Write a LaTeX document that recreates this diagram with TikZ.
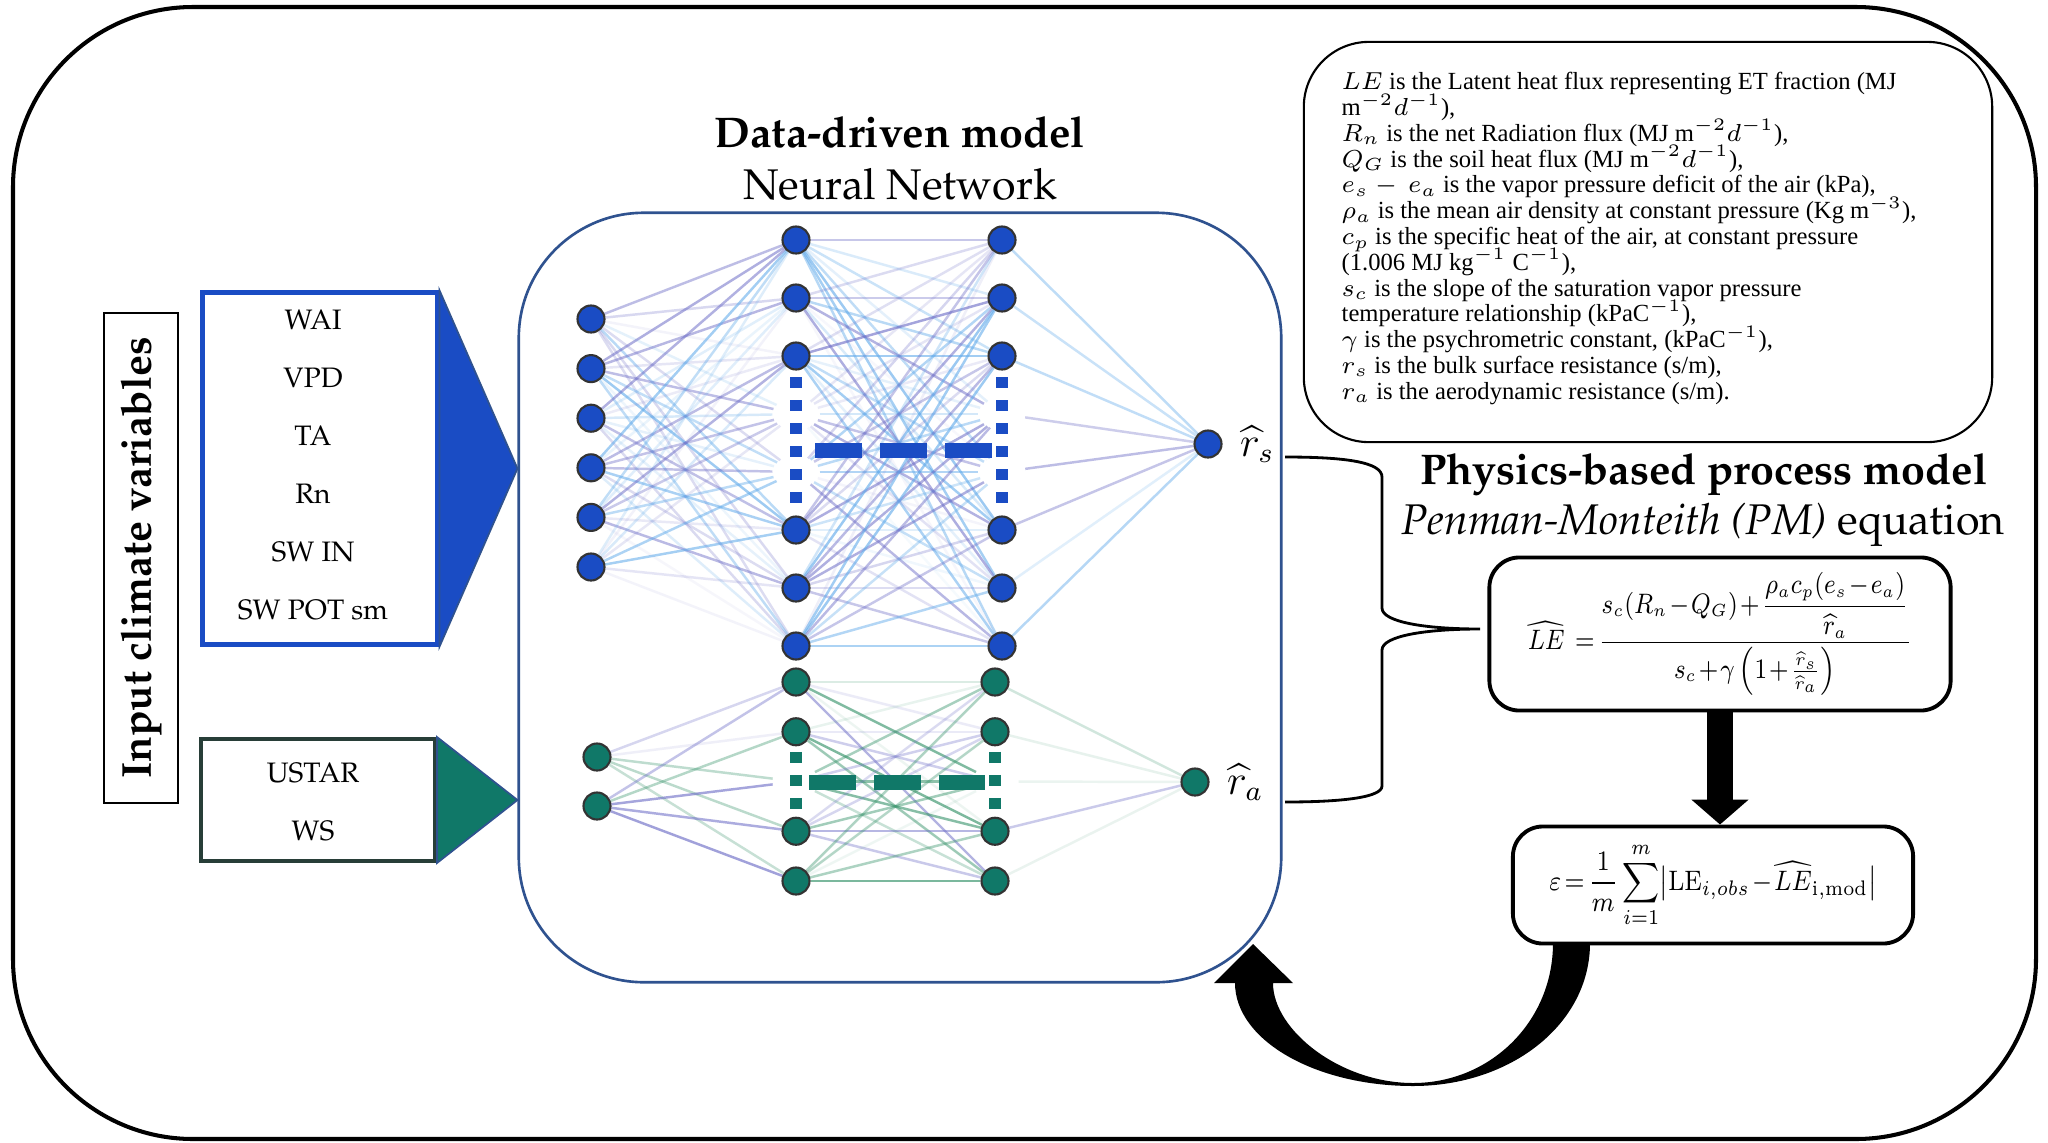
\documentclass[tikz,border=0pt]{standalone}
\usepackage[T1]{fontenc}
\usepackage{fontspec}
\usepackage{amsmath}
\usetikzlibrary{positioning,backgrounds,arrows.meta,shapes.geometric}
\newfontfamily\notefont{Liberation Serif}
\newcommand\palfont{\fontencoding{T1}\fontfamily{ppl}}
\newcommand\notesize{\notefont\fontsize{7.0}{7.33}\selectfont\lineskiplimit=-5pt\relax}
\newcommand\tightmath{\medmuskip=1.5mu\thickmuskip=2.5mu\relax}

\definecolor{nnblue}{RGB}{26,76,196}
\definecolor{nngreen}{RGB}{16,120,104}
\definecolor{nnframe}{RGB}{47,82,143}
\definecolor{eblue}{RGB}{100,172,235}
\definecolor{epurple}{RGB}{112,112,200}
\definecolor{egreen}{RGB}{60,150,110}
\definecolor{gframe}{RGB}{40,62,56}

\tikzset{
  neuron/.style={circle, draw=black!80, line width=0.6pt, minimum size=0.27cm, inner sep=0pt},
  bneuron/.style={neuron, fill=nnblue},
  gneuron/.style={neuron, fill=nngreen},
  hole/.style={ellipse, fill=white, minimum width=0.46cm, minimum height=0.30cm, inner sep=0pt},
  edge/.style={line width=0.7pt},
  varbox/.style={draw, minimum width=2.34cm, align=center, font=\palfont\fontsize{8}{16.5}\selectfont},
  eqbox/.style={draw, rounded corners=0.3cm, line width=1.1pt},
  title/.style={font=\palfont\fontsize{12.2}{14}\selectfont},
  vdots/.style={line width=0.12cm, dash pattern=on 0.11cm off 0.12cm},
  hdash/.style={line width=0.15cm, dash pattern=on 0.47cm off 0.18cm},
}

\begin{document}
\begin{tikzpicture}[x=0.01cm, y=-0.01cm]
  \useasboundingbox (0,0) rectangle (2048,1142);
  \begin{scope}[on background layer]
    \fill[white] (0,0) rectangle (2048,1142);
  \end{scope}
  \draw[line width=1.15pt, rounded corners=1.8cm] (13,7) rectangle (2036,1139);

  % inputs
  \node[draw, line width=0.6pt, rotate=90, minimum width=4.9cm, minimum height=0.74cm,
        font=\palfont\bfseries\fontsize{11.9}{14}\selectfont] (icv) at (141,558) {Input climate variables};
  \node[varbox, draw=nnblue, line width=1.4pt, minimum height=3.51cm] (cbox) at (320,468.5) {};
  \node[align=center, font=\palfont\fontsize{8}{16.5}\selectfont] (cvars) at (313,465)
    {WAI\\VPD\\TA\\Rn\\SW IN\\SW POT sm};
  \node[varbox, draw=gframe, line width=1.1pt, minimum height=1.22cm] (gbox) at (318,800) {};
  \node[align=center, font=\palfont\fontsize{8}{16.5}\selectfont] (gvars) at (313,802) {USTAR\\WS};

  % network frame
  \node[draw=nnframe, line width=0.75pt, rounded corners=1.25cm, minimum width=7.62cm, minimum height=7.69cm] (nn) at (900,597.5) {};
  \filldraw[fill=nnblue, draw=nnframe, line width=0.5pt] (cbox.north east) -- (cbox.east -| nn.west) -- (cbox.south east) -- cycle;
  \filldraw[fill=nngreen, draw=nnframe, line width=0.5pt] (gbox.north east) -- (gbox.east -| nn.west) -- (gbox.south east) -- cycle;
  \node[title] (ddm) at (900,132) {\bfseries Data-driven model};
  \node[title] (nnt) at (900,184) {Neural Network};

  % blue network (r_s)
  \foreach \i [evaluate=\i as \y using 319+49.6*(\i-1)] in {1,...,6}
    \node[bneuron] (bi\i) at (591,\y) {};
  \foreach \j [evaluate=\j as \y using 240+58*(\j-1)] in {1,2,3,6,7,8} {
    \node[bneuron] (b1-\j) at (796,\y) {};
    \node[bneuron] (b2-\j) at (1002,\y) {};
  }
  \foreach \j [evaluate=\j as \y using 240+58*(\j-1)] in {4,5} {
    \node[hole] (b1-\j) at (796,\y) {};
    \node[hole] (b2-\j) at (1002,\y) {};
  }
  \node[bneuron] (rs) at (1208,444) {};
  \node[right=0.05cm of rs, font=\fontsize{12}{14}\selectfont] (rslab) {$\widehat{r}_s$};

  % green network (r_a)
  \foreach \i [evaluate=\i as \y using 757+49*(\i-1)] in {1,2}
    \node[gneuron] (gi\i) at (597,\y) {};
  \foreach \j [evaluate=\j as \y using 682+49.75*(\j-1)] in {1,2,4,5} {
    \node[gneuron] (g1-\j) at (796,\y) {};
    \node[gneuron] (g2-\j) at (995,\y) {};
  }
  \node[hole] (g1-3) at (796,781.5) {};
  \node[hole] (g2-3) at (995,781.5) {};
  \node[gneuron] (ra) at (1195,782) {};
  \node[right=0.05cm of ra, font=\fontsize{12}{14}\selectfont] (ralab) {$\widehat{r}_a$};

  % weights
  \pgfmathsetseed{11}
  \begin{scope}[on background layer]
    \foreach \i in {1,...,6}
      \foreach \j in {1,...,8} {
        \pgfmathsetmacro\op{0.06+0.6*rnd}
        \pgfmathtruncatemacro\pick{rnd<0.45}
        \ifnum\pick=1 \def\ecol{eblue}\else\def\ecol{epurple}\fi
        \draw[edge, draw=\ecol, draw opacity=\op] (bi\i) -- (b1-\j);
      }
    \foreach \i in {1,...,8}
      \foreach \j in {1,...,8} {
        \pgfmathsetmacro\op{0.05+0.6*rnd}
        \pgfmathtruncatemacro\pick{rnd<0.45}
        \ifnum\pick=1 \def\ecol{eblue}\else\def\ecol{epurple}\fi
        \draw[edge, draw=\ecol, draw opacity=\op] (b1-\i) -- (b2-\j);
      }
    \foreach \i in {1,...,8} {
      \pgfmathsetmacro\op{0.06+0.6*rnd}
      \pgfmathtruncatemacro\pick{rnd<0.5}
      \ifnum\pick=1 \def\ecol{eblue}\else\def\ecol{epurple}\fi
      \draw[edge, draw=\ecol, draw opacity=\op] (b2-\i) -- (rs);
    }
    \foreach \i in {1,2}
      \foreach \j in {1,...,5} {
        \pgfmathsetmacro\op{0.1+0.6*rnd}
        \pgfmathtruncatemacro\pick{rnd<0.45}
        \ifnum\pick=1 \def\ecol{egreen}\else\def\ecol{epurple}\fi
        \draw[edge, draw=\ecol, draw opacity=\op] (gi\i) -- (g1-\j);
      }
    \foreach \i in {1,...,5}
      \foreach \j in {1,...,5} {
        \pgfmathsetmacro\op{0.08+0.6*rnd}
        \pgfmathtruncatemacro\pick{rnd<0.5}
        \ifnum\pick=1 \def\ecol{egreen}\else\def\ecol{epurple}\fi
        \draw[edge, draw=\ecol, draw opacity=\op] (g1-\i) -- (g2-\j);
      }
    \foreach \i in {1,...,5} {
      \pgfmathsetmacro\op{0.1+0.5*rnd}
      \pgfmathtruncatemacro\pick{rnd<0.5}
      \ifnum\pick=1 \def\ecol{egreen}\else\def\ecol{epurple}\fi
      \draw[edge, draw=\ecol, draw opacity=\op] (g2-\i) -- (ra);
    }
  \end{scope}

  % hidden neurons left out
  \draw[vdots, nnblue] ([yshift=-0.21cm]b1-3.center) -- ([yshift=0.20cm]b1-6.center);
  \draw[vdots, nnblue] ([yshift=-0.21cm]b2-3.center) -- ([yshift=0.20cm]b2-6.center);
  \draw[hdash, nnblue] (815,450) -- (992,450);
  \draw[vdots, nngreen] ([yshift=-0.20cm]g1-2.center) -- ([yshift=0.19cm]g1-4.center);
  \draw[vdots, nngreen] ([yshift=-0.20cm]g2-2.center) -- ([yshift=0.19cm]g2-4.center);
  \draw[hdash, nngreen] (809,782) -- (985,782);

  % physics part
  \node[draw, line width=0.6pt, rounded corners=0.65cm, minimum width=6.88cm, minimum height=4.0cm] (notes) at (1648,242) {};
  \node[anchor=west, align=left, inner sep=0pt, font=\notesize] (notetxt) at (1341,238.5)
    {$LE$ is the Latent heat flux representing ET fraction (MJ\\
     m$^{-2}d^{-1}$),\\
     $R_n$ is the net Radiation flux (MJ m$^{-2}d^{-1}$),\\
     $Q_G$ is the soil heat flux (MJ m$^{-2}d^{-1}$),\\
     $e_s-\,e_a$ is the vapor pressure deficit of the air (kPa),\\
     $\rho_a$ is the mean air density at constant pressure (Kg m$^{-3}$),\\
     $c_p$ is the specific heat of the air, at constant pressure\\
     (1.006 MJ kg$^{-1}$ C$^{-1}$),\\
     $s_c$ is the slope of the saturation vapor pressure\\
     temperature relationship (kPaC$^{-1}$),\\
     $\gamma$ is the psychrometric constant, (kPaC$^{-1}$),\\
     $r_s$ is the bulk surface resistance (s/m),\\
     $r_a$ is the aerodynamic resistance (s/m).};
  \node[title] (pbm) at (1704,474) {\bfseries Physics-based process model};
  \node[title] (pme) at (1703,525) {\textit{Penman-Monteith (PM)} equation};
  \node[eqbox, minimum width=4.61cm, minimum height=1.53cm, font=\fontsize{7.6}{9}\selectfont] (pm) at (1720,634)
    {\scalebox{0.84}[1]{$\tightmath\displaystyle \widehat{LE}\;\;=\frac{s_c(R_n-Q_G)+\dfrac{\rho_a c_p(e_s-e_a)}{\widehat{r}_a}}{s_c+\gamma\left(1+\frac{\widehat{r}_s}{\widehat{r}_a}\right)}$}};
  \node[eqbox, minimum width=4.0cm, minimum height=1.17cm, font=\fontsize{8}{10}\selectfont] (err) at (1713,885)
    {\scalebox{0.86}[1]{$\tightmath\displaystyle \varepsilon=\frac{1}{m}\sum_{i=1}^{m}\bigl|\mathrm{LE}_{i,obs}-\widehat{LE}_{\mathrm{i,mod}}\bigr|$}};

  % connectors
  \draw[line width=0.8pt] (1285,457) .. controls (1345,457) and (1382,462) .. (1382,477) -- (1382,608)
    .. controls (1382,622) and (1425,629) .. (1480,629) .. controls (1425,629) and (1382,636) .. (1382,650)
    -- (1382,786) .. controls (1382,797) and (1345,802) .. (1285,802);
  \draw[line width=0.26cm, -{Triangle[width=0.56cm, length=0.25cm]}] (pm.south) -- (pm.south |- err.north);
  \fill (1553,943) -- (1590,943) .. controls (1590,1024) and (1511,1086) .. (1413,1086)
    .. controls (1315,1086) and (1235,1040) .. (1235,983) -- (1214,983) -- (1253,944) -- (1293,983) -- (1273,983)
    .. controls (1273,1030) and (1340,1083) .. (1413,1083) .. controls (1490,1083) and (1553,1022) .. (1553,943) -- cycle;
\end{tikzpicture}
\end{document}
